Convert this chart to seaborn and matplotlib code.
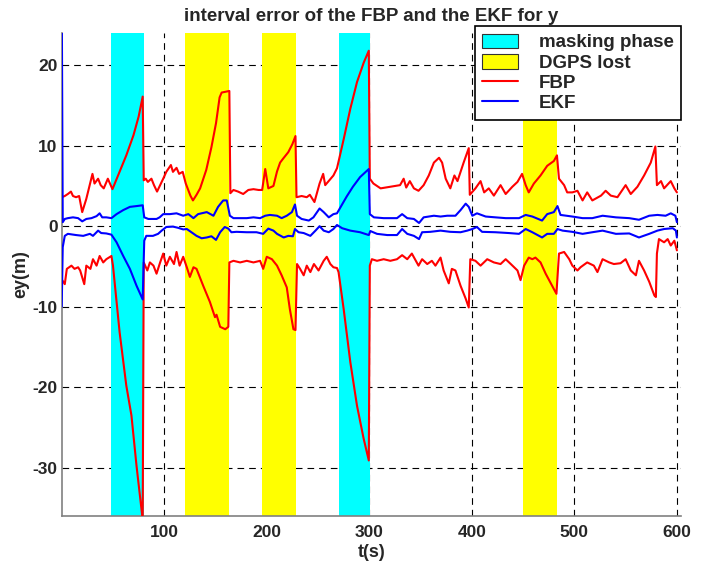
import numpy as np
import pandas as pd
import matplotlib
matplotlib.use("Agg")
import matplotlib.pyplot as plt
import seaborn as sns
from matplotlib.patches import Patch
from matplotlib.lines import Line2D

# --- data ---
# shaded phases (start, end) in seconds
mask_spans = [(48, 80), (270, 300.5)]
dgps_spans = [(120, 163.5), (195, 228.5), (450, 483.5)]

# FBP upper bound
fbp_hi_t = [0, 3, 6, 9, 11, 14, 17, 20, 24, 28, 30, 32, 35.5, 38, 41, 45, 49.5,
            55, 63, 70, 75, 79, 80, 82, 84, 87.5, 90, 93, 96, 99, 102, 106.5,
            108.5, 112, 114.5, 118, 121, 125.5, 128, 131.5, 135, 141, 146, 150.5,
            154, 156, 163.5, 164.5, 167.5, 172, 177, 182, 187, 192, 195.5, 198.5,
            201.5, 206.5, 210, 213, 216, 221, 225, 228, 229, 234, 239, 242, 246.5,
            251.5, 255, 257, 261, 265, 268.5, 275, 281.5, 288, 294.5, 299.5, 300.5,
            304, 311, 320.5, 330, 333.5, 336, 339.5, 343.5, 348, 353, 358, 363,
            368, 371, 374.5, 379, 383, 386, 392, 397, 398, 403.5, 408.5, 412,
            416.5, 421.5, 428, 433, 439.5, 444.5, 449, 452.5, 455.5, 460.5, 467,
            473.5, 480, 483, 485, 490, 493, 498, 503, 508, 512.5, 517.5, 526,
            530.5, 535.5, 542, 550, 555, 561.5, 568, 574.5, 579, 580.5, 584.5,
            587.5, 594, 597.5, 600]
fbp_hi = [3.6, 3.75, 4.0, 4.3, 3.75, 3.6, 3.75, 1.75, 3.4, 5.5, 6.5, 5.3, 5.9, 5.1,
          4.7, 5.9, 4.6, 6.3, 8.8, 11.3, 13.6, 16.1, 5.7, 5.9, 5.5, 5.9, 5.1, 4.3,
          5.1, 5.9, 6.75, 7.6, 6.75, 7.25, 6.5, 6.75, 5.3, 3.8, 3.2, 3.9, 4.7, 7.0,
          9.8, 12.8, 16.0, 16.6, 16.8, 4.1, 4.5, 4.3, 4.0, 4.5, 4.6, 4.5, 4.5, 7.1,
          4.7, 5.0, 6.8, 7.9, 8.4, 9.2, 10.2, 11.2, 3.6, 3.75, 3.6, 3.9, 3.0, 5.3,
          6.5, 5.1, 5.7, 6.3, 7.2, 10.8, 14.6, 17.9, 20.3, 21.8, 5.9, 5.3, 4.7,
          4.9, 5.1, 5.9, 4.8, 5.6, 4.7, 4.4, 5.1, 6.3, 7.9, 8.5, 7.9, 5.9, 4.7,
          6.3, 5.6, 7.9, 9.7, 3.9, 4.7, 5.6, 4.2, 4.7, 3.8, 5.1, 4.0, 4.9, 5.5,
          6.5, 5.1, 4.2, 5.3, 6.3, 7.5, 8.1, 8.8, 5.9, 5.1, 4.2, 4.2, 4.4, 3.2,
          4.2, 3.2, 3.8, 4.4, 3.8, 3.6, 5.1, 4.0, 4.9, 6.3, 7.9, 9.9, 5.1, 5.6,
          4.7, 5.6, 4.7, 4.2]

# FBP lower bound
fbp_lo_t = [0, 3, 5, 9.5, 12.5, 16, 18, 22, 24, 28, 30.5, 34, 37, 40.5, 43.5, 48.5,
            50, 56.5, 63, 68, 73, 79, 80, 83.5, 86, 89.5, 92.5, 96, 99, 102, 105.5,
            109.5, 112, 115, 118.5, 122, 125, 128.5, 131.5, 138, 144.5, 149.5, 151,
            154.5, 159.5, 162.5, 163.5, 167.5, 174, 180.5, 187, 193.5, 196.5, 200,
            205, 210, 214.5, 219.5, 222.5, 226, 228, 229.5, 232.5, 236, 239, 242.5,
            246, 250.5, 255.5, 258.5, 262, 265, 268.5, 270, 275, 281.5, 288, 294.5,
            299.5, 300.5, 302.5, 307.5, 314, 320.5, 327, 332, 337, 341.5, 348, 351.5,
            356.5, 361, 364.5, 369.5, 372.5, 377.5, 380.5, 384, 389, 394, 397, 398.5,
            403.5, 408.5, 415, 421.5, 428, 433, 438, 444.5, 447.5, 451, 455.5, 459,
            462, 467, 472, 477, 482.5, 485, 490, 495, 498, 503, 506, 512.5, 519,
            522.5, 527.5, 534, 538.5, 545, 550, 555, 560, 563, 568, 573, 578, 579.5,
            580.5, 582.5, 587.5, 591, 594, 597.5, 600]
fbp_lo = [-6.6, -7.2, -5.3, -4.9, -5.3, -5.1, -5.5, -7.2, -4.9, -5.3, -4.1, -4.9,
          -3.7, -4.5, -4.1, -3.7, -4.9, -13.2, -19.8, -23.5, -29.8, -36.5, -4.5,
          -5.5, -4.5, -4.9, -5.9, -4.5, -3.4, -4.9, -3.8, -4.7, -3.2, -4.9, -3.8,
          -5.1, -6.3, -5.1, -5.3, -7.4, -9.4, -11.3, -11.0, -12.5, -12.8, -12.5,
          -4.5, -4.3, -4.5, -4.3, -4.5, -4.3, -5.3, -3.8, -4.1, -4.9, -6.1, -7.6,
          -10.3, -12.8, -12.9, -4.7, -5.3, -6.1, -4.9, -5.7, -4.7, -5.5, -4.3,
          -3.8, -4.7, -5.1, -5.2, -5.7, -10.3, -16.9, -22.3, -26.4, -29.1, -4.9,
          -4.1, -4.3, -4.1, -4.3, -4.1, -3.6, -4.1, -3.4, -4.9, -4.1, -4.7, -4.3,
          -4.9, -3.9, -5.5, -7.1, -5.3, -5.5, -7.4, -9.0, -10.1, -4.1, -4.3, -4.9,
          -4.1, -4.5, -4.7, -4.1, -4.7, -5.5, -6.7, -4.9, -3.9, -4.1, -3.9, -4.5,
          -5.9, -7.1, -8.4, -3.4, -3.2, -4.1, -4.9, -5.5, -5.1, -4.5, -4.9, -5.7,
          -4.1, -4.5, -4.7, -4.6, -4.1, -5.5, -6.1, -4.3, -5.5, -6.9, -8.6, -8.8,
          -3.4, -1.6, -2.0, -1.6, -2.4, -1.8, -3.0]

# EKF upper bound
ekf_hi_t = [0, 1, 3, 6, 11, 16, 20, 24, 29, 34, 37, 39.5, 43.5, 48.5, 53.5, 60,
            66.5, 73, 79, 80.5, 84.5, 92.5, 95.5, 99, 105.5, 112, 118.5, 123.5,
            128.5, 133, 141.5, 148, 152.5, 157.5, 161, 164, 167.5, 180.5, 187,
            193.5, 198.5, 203, 210, 214.5, 219.5, 224.5, 227.5, 229.5, 234, 241,
            245.5, 251.5, 255.5, 260.5, 265, 268.5, 273, 278, 284, 291, 299.5,
            300.5, 304.5, 314, 327, 332, 337, 343.5, 348.5, 353, 363, 369.5, 376,
            384, 389, 394, 397, 400.5, 405, 413.5, 423, 433, 446, 452.5, 459, 468.5,
            473.5, 480, 483.5, 486.5, 498, 508, 517.5, 527.5, 540.5, 553.5, 563,
            573, 581, 589, 594, 598.5, 600]
ekf_hi = [30, 0.5, 0.9, 1.0, 1.1, 1.0, 0.6, 0.9, 1.0, 1.25, 1.6, 1.1, 1.1, 1.0, 1.5,
          2.0, 2.4, 2.5, 2.6, 1.1, 0.9, 0.9, 1.1, 1.5, 1.5, 1.6, 1.3, 1.5, 1.0,
          1.5, 1.75, 1.3, 2.4, 3.2, 3.2, 1.3, 1.0, 1.0, 1.1, 1.0, 1.3, 1.4, 1.3,
          1.0, 1.3, 1.75, 2.7, 1.3, 0.9, 0.7, 1.1, 2.2, 1.75, 1.1, 1.5, 1.6, 2.6,
          3.7, 4.9, 6.1, 7.1, 1.5, 1.1, 1.0, 1.0, 1.5, 1.0, 0.9, 0.4, 1.1, 1.3,
          1.2, 1.3, 1.3, 2.0, 2.8, 2.4, 1.3, 1.6, 1.2, 1.1, 1.0, 1.0, 1.4, 1.2,
          0.7, 1.5, 1.75, 2.5, 1.4, 1.2, 1.0, 1.0, 1.3, 1.1, 1.0, 0.8, 1.3, 1.4,
          1.3, 1.6, 1.3, 0.5]

# EKF lower bound
ekf_lo_t = [0, 1, 3, 6, 14, 21, 27.5, 30.5, 35.5, 38.5, 43.5, 48.5, 53.5, 60, 66.5,
            73, 79, 80.5, 82.5, 89, 94, 97.5, 102, 108.5, 113.5, 118.5, 122, 126.5,
            131.5, 136.5, 141.5, 146, 150.5, 154.5, 159, 162.5, 165.5, 170.5, 180.5,
            190, 196.5, 201.5, 206.5, 210, 216.5, 221, 225.5, 227.5, 231, 236,
            242.5, 247.5, 251.5, 255.5, 260.5, 265, 268.5, 273.5, 281.5, 291, 299.5,
            301, 307.5, 317.5, 327, 332, 337, 343.5, 348.5, 351.5, 359.5, 369.5,
            379, 389, 395.5, 400.5, 405, 410, 423, 436, 446, 452.5, 459, 468.5,
            473.5, 480, 483.5, 488.5, 498, 508, 517.5, 527.5, 540.5, 553.5, 563,
            573, 581, 587.5, 596, 599, 600]
ekf_lo = [-10, -2.6, -1.2, -0.95, -1.1, -1.2, -0.95, -1.2, -0.55, -0.85, -0.9, -1.05,
          -2.0, -3.7, -5.3, -7.4, -9.1, -1.8, -1.2, -1.2, -0.95, -0.55, -0.1, -0.05,
          -0.2, -0.4, -0.35, -0.75, -1.2, -1.5, -1.4, -1.25, -1.7, -0.75, -0.1,
          -0.3, -0.75, -0.7, -0.75, -0.75, -0.95, -0.3, -0.55, -0.95, -1.4, -1.2,
          -1.25, -0.35, -0.75, -0.85, -1.2, -0.55, 0.0, -0.55, -0.75, -0.35, 0.15,
          -0.25, -0.55, -0.75, -1.1, -0.6, -0.95, -1.1, -1.1, -0.35, -0.95, -1.2,
          -1.6, -0.75, -0.7, -0.55, -0.7, -0.75, -0.55, -0.35, -0.1, -0.7, -0.75,
          -0.85, -0.95, -0.35, -0.75, -1.4, -0.95, -0.95, -0.35, -0.55, -0.7,
          -0.95, -0.75, -0.55, -0.95, -0.9, -1.4, -0.95, -0.55, -0.35, -0.25,
          -0.55, -1.4]

x_ticks = [100, 200, 300, 400, 500, 600]
y_ticks = [-30, -20, -10, 0, 10, 20]

# --- long-form frame for seaborn ---
parts = []
for name, bound, t, v in [("FBP", "hi", fbp_hi_t, fbp_hi), ("FBP", "lo", fbp_lo_t, fbp_lo),
                          ("EKF", "hi", ekf_hi_t, ekf_hi), ("EKF", "lo", ekf_lo_t, ekf_lo)]:
    parts.append(pd.DataFrame({"t": t, "err": v, "method": name, "curve": name + bound}))
df = pd.concat(parts, ignore_index=True)

sns.set_style("white")
plt.rcParams['font.family'] = ['Liberation Sans', 'DejaVu Sans']
plt.rcParams['font.weight'] = 'bold'
plt.rcParams['axes.unicode_minus'] = False

fig = plt.figure(figsize=(7.06, 5.64), dpi=100)
ax = fig.add_axes([0.0874, 0.0851, 0.8772, 0.8564])

for a, b in mask_spans:
    ax.axvspan(a, b, color='#00FFFF', lw=0, zorder=1)
for a, b in dgps_spans:
    ax.axvspan(a, b, color='#FFFF00', lw=0, zorder=1)

sns.lineplot(data=df, x="t", y="err", hue="method", units="curve", estimator=None,
             sort=False, palette={"FBP": "#FF0000", "EKF": "#0000FF"},
             linewidth=1.5, legend=False, ax=ax, zorder=3)

ax.set_xlim(0, 604)
ax.set_ylim(-36, 24)
ax.set_xticks(x_ticks)
ax.set_yticks(y_ticks)
ax.set_axisbelow(True)
ax.grid(True, color='black', linestyle=(0, (6, 4.5)), linewidth=0.8)
ax.tick_params(axis='both', length=0, labelsize=12.5)
ax.tick_params(axis='x', pad=6.5)
ax.tick_params(axis='y', pad=3)
for lab in ax.get_xticklabels() + ax.get_yticklabels():
    lab.set_fontweight('bold')

for s in ['top', 'right']:
    ax.spines[s].set_visible(False)
for s in ['left', 'bottom']:
    ax.spines[s].set_color('#808080')
    ax.spines[s].set_linewidth(1.2)

ax.set_title("interval error of the FBP and the EKF for y", fontsize=13.5,
             fontweight='bold', pad=8.5)
ax.set_xlabel("t(s)", fontsize=13, fontweight='bold', labelpad=3)
ax.set_ylabel("ey(m)", fontsize=13, fontweight='bold', labelpad=2)

handles = [Patch(facecolor='#00FFFF', edgecolor='#333333', lw=0.8, label='masking phase'),
           Patch(facecolor='#FFFF00', edgecolor='#333333', lw=0.8, label='DGPS lost'),
           Line2D([], [], color='#FF0000', lw=1.5, label='FBP'),
           Line2D([], [], color='#0000FF', lw=1.5, label='EKF')]
leg = ax.legend(handles=handles, loc='upper right', bbox_to_anchor=(0.9646, 0.9539),
                bbox_transform=fig.transFigure, borderaxespad=0, fancybox=False,
                framealpha=1, edgecolor='black', fontsize=13.5, handlelength=1.9,
                handleheight=0.85, labelspacing=0.12, handletextpad=1.1,
                borderpad=0.4)
leg.get_frame().set_linewidth(1.2)
for txt in leg.get_texts():
    txt.set_fontweight('bold')

fig.savefig("out.png", dpi=100)
